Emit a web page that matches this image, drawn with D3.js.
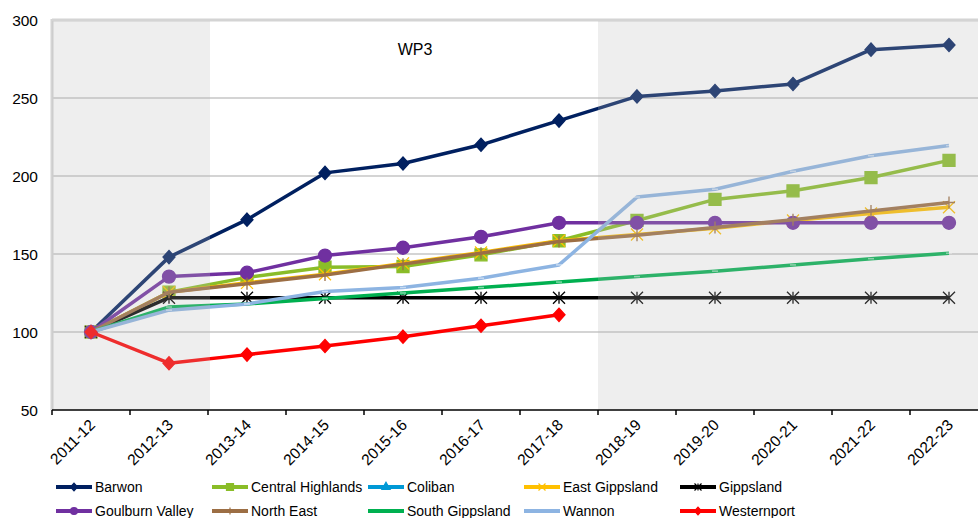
<!DOCTYPE html>
<html>
<head>
<meta charset="utf-8">
<script src="https://cdn.jsdelivr.net/npm/d3@7"></script>
<style>
  body { margin: 0; background: #fff; }
  text { font-family: "Liberation Sans", Arial, sans-serif; }
</style>
</head>
<body>
<div id="chart"></div>
<script>
var years = ['2011-12','2012-13','2013-14','2014-15','2015-16','2016-17','2017-18','2018-19','2019-20','2020-21','2021-22','2022-23']
var yTicks = [50,100,150,200,250,300]

var barwon      = [100,148,172,202,208,220,235.5,251,254.5,259,281,284]
var central     = [100,125.5,135,141.5,142,149.5,158.5,171.5,185,190.5,199,210]
var coliban     = [null,null,null,null,null,null,null,null,null,null,null,null]
var eastGipps   = [100,125.5,131.5,137,144,151,158.5,162.5,166.5,171.5,176,180]
var gippsland   = [100,122,122,122,122,122,122,122,122,122,122,122]
var goulburn    = [100,135.5,138,149,154,161,170,170,170,170,170,170]
var northEast   = [100,125.5,131,136.5,143.5,150.5,158,162,167,172,177.5,183]
var southGipps  = [100,116,118,121.5,125,128.5,132,135.5,139,143,147,150.5]
var wannon      = [100,114,118,126,128.5,134.5,143,186.5,191.5,203,213,219.5]
var westernport = [100,80,85.5,91,97,104,111,null,null,null,null,null]

var series = [
  {name:'Barwon', values:barwon, color:'#002060', marker:'diamond'},
  {name:'Central Highlands', values:central, color:'#8abd28', marker:'square'},
  {name:'Coliban', values:coliban, color:'#0099d6', marker:'triangle'},
  {name:'East Gippsland', values:eastGipps, color:'#ffc000', marker:'x'},
  {name:'Gippsland', values:gippsland, color:'#000000', marker:'star'},
  {name:'Goulburn Valley', values:goulburn, color:'#7030a0', marker:'circle'},
  {name:'North East', values:northEast, color:'#9c6e44', marker:'plus'},
  {name:'South Gippsland', values:southGipps, color:'#00b050', marker:'dash'},
  {name:'Wannon', values:wannon, color:'#8db4e2', marker:'dash'},
  {name:'Westernport', values:westernport, color:'#ff0000', marker:'diamond'}
]

var width = 978, height = 518
var mLeft = 52, mRight = 988, mTop = 20, mBottom = 410

var svg = d3.select('#chart').append('svg')
    .attr('width',width)
    .attr('height',height)

var x = d3.scaleBand().domain(years).range([mLeft,mRight])
var y = d3.scaleLinear().domain([50,300]).range([mBottom,mTop])
var cx = d => x(d) + x.bandwidth()/2

// grid
svg.append('g').selectAll('line').data(yTicks.filter(v => v>50)).enter().append('line')
  .attr('x1',mLeft).attr('x2',mRight)
  .attr('y1',d => y(d)).attr('y2',d => y(d))
  .attr('stroke','#d4d4d4').attr('stroke-width',d => d===300 ? 3 : 2)

// left axis line
svg.append('line').attr('x1',mLeft).attr('x2',mLeft).attr('y1',mTop-1).attr('y2',mBottom)
  .attr('stroke','#d4d4d4').attr('stroke-width',3)

// y labels
svg.append('g').selectAll('text').data(yTicks).enter().append('text')
  .attr('x',38).attr('y',d => y(d)+5.5)
  .attr('text-anchor','end').attr('font-size',15.5).attr('fill','#000')
  .text(d => d)

// title
svg.append('text').attr('x',415).attr('y',55).attr('text-anchor','middle')
  .attr('font-size',16).text('WP3')

var markerPath = function(type, s){
  var h = s/2
  if(type==='diamond') return `M0,${-h*1.1}L${h},0L0,${h*1.1}L${-h},0Z`
  if(type==='square') return `M${-h},${-h}H${h}V${h}H${-h}Z`
  if(type==='triangle') return d3.symbol().type(d3.symbolTriangle).size(s*s*0.6)()
  if(type==='circle') return d3.symbol().type(d3.symbolCircle).size(Math.PI*h*h)()
  if(type==='x') return `M${-h},${-h}L${h},${h}M${-h},${h}L${h},${-h}`
  if(type==='plus') return `M${-h},0H${h}M0,${-h}V${h}`
  if(type==='star') return `M${-h},${-h}L${h},${h}M${-h},${h}L${h},${-h}M0,${-h}V${h}`
  if(type==='dash') return `M${-h*0.5},0H${h*0.5}`
  return ''
}
var strokeMarker = t => t==='x' || t==='plus' || t==='star' || t==='dash'

var line = d3.line()
  .defined(d => d.v !== null)
  .x(d => cx(d.year)).y(d => y(d.v))

var plot = svg.append('g')
series.forEach(s => {
  var pts = s.values.map((v,i) => ({year:years[i], v:v}))
  plot.append('path').datum(pts)
    .attr('d',line).attr('fill','none')
    .attr('stroke',s.color).attr('stroke-width',3.5)
    .attr('stroke-linejoin','round')
  var size = s.marker==='circle' ? 13 : 12
  plot.selectAll(null).data(pts.filter(d => d.v!==null)).enter().append('path')
    .attr('transform',d => `translate(${cx(d.year)},${y(d.v)})`)
    .attr('d',markerPath(s.marker,size))
    .attr('fill',strokeMarker(s.marker) ? 'none' : s.color)
    .attr('stroke',s.marker==='dash' ? '#ffffff' : s.color)
    .attr('stroke-opacity',s.marker==='dash' ? 0.5 : 1)
    .attr('stroke-width',s.marker==='dash' ? 1.5 : 1.3)
})

// shaded regions overlay
var shade = [[years[0],years[2]],[years[7],null]]
svg.append('g').selectAll('rect').data(shade).enter().append('rect')
  .attr('x',d => x(d[0]))
  .attr('y',mTop+1)
  .attr('width',d => (d[1] ? x(d[1]) + 2 : mRight) - x(d[0]))
  .attr('height',mBottom-mTop-1)
  .attr('fill','rgb(185,185,185)').attr('fill-opacity',0.243)

// bottom axis
svg.append('line').attr('x1',mLeft).attr('x2',mRight).attr('y1',mBottom).attr('y2',mBottom)
  .attr('stroke','#000').attr('stroke-width',1.5)
svg.append('g').selectAll('line').data(years.concat(['end'])).enter().append('line')
  .attr('x1',(d,i) => mLeft + i*x.step()).attr('x2',(d,i) => mLeft + i*x.step())
  .attr('y1',mBottom).attr('y2',mBottom+5)
  .attr('stroke','#000').attr('stroke-width',1.5)

svg.append('g').selectAll('text').data(years).enter().append('text')
  .attr('transform',d => `translate(${cx(d)+5},${mBottom+16}) rotate(-45)`)
  .attr('text-anchor','end').attr('font-size',15.5)
  .text(d => d)

// legend
var legend = svg.append('g')
series.forEach((s,i) => {
  var col = i % 5, row = Math.floor(i/5)
  var lx = 56 + col*156, ly = 487 + row*24
  var g = legend.append('g').attr('transform',`translate(${lx},${ly})`)
  g.append('line').attr('x1',0).attr('x2',36).attr('y1',0).attr('y2',0)
    .attr('stroke',s.color).attr('stroke-width',4)
  if(s.marker!=='dash'){
    g.append('path').attr('transform','translate(18,0)')
      .attr('d',markerPath(s.marker,7))
      .attr('fill',strokeMarker(s.marker) ? 'none' : s.color)
      .attr('stroke',s.color).attr('stroke-width',1.2)
  }
  g.append('text').attr('x',39).attr('y',5).attr('font-size',14).text(s.name)
})
</script>
</body>
</html>
